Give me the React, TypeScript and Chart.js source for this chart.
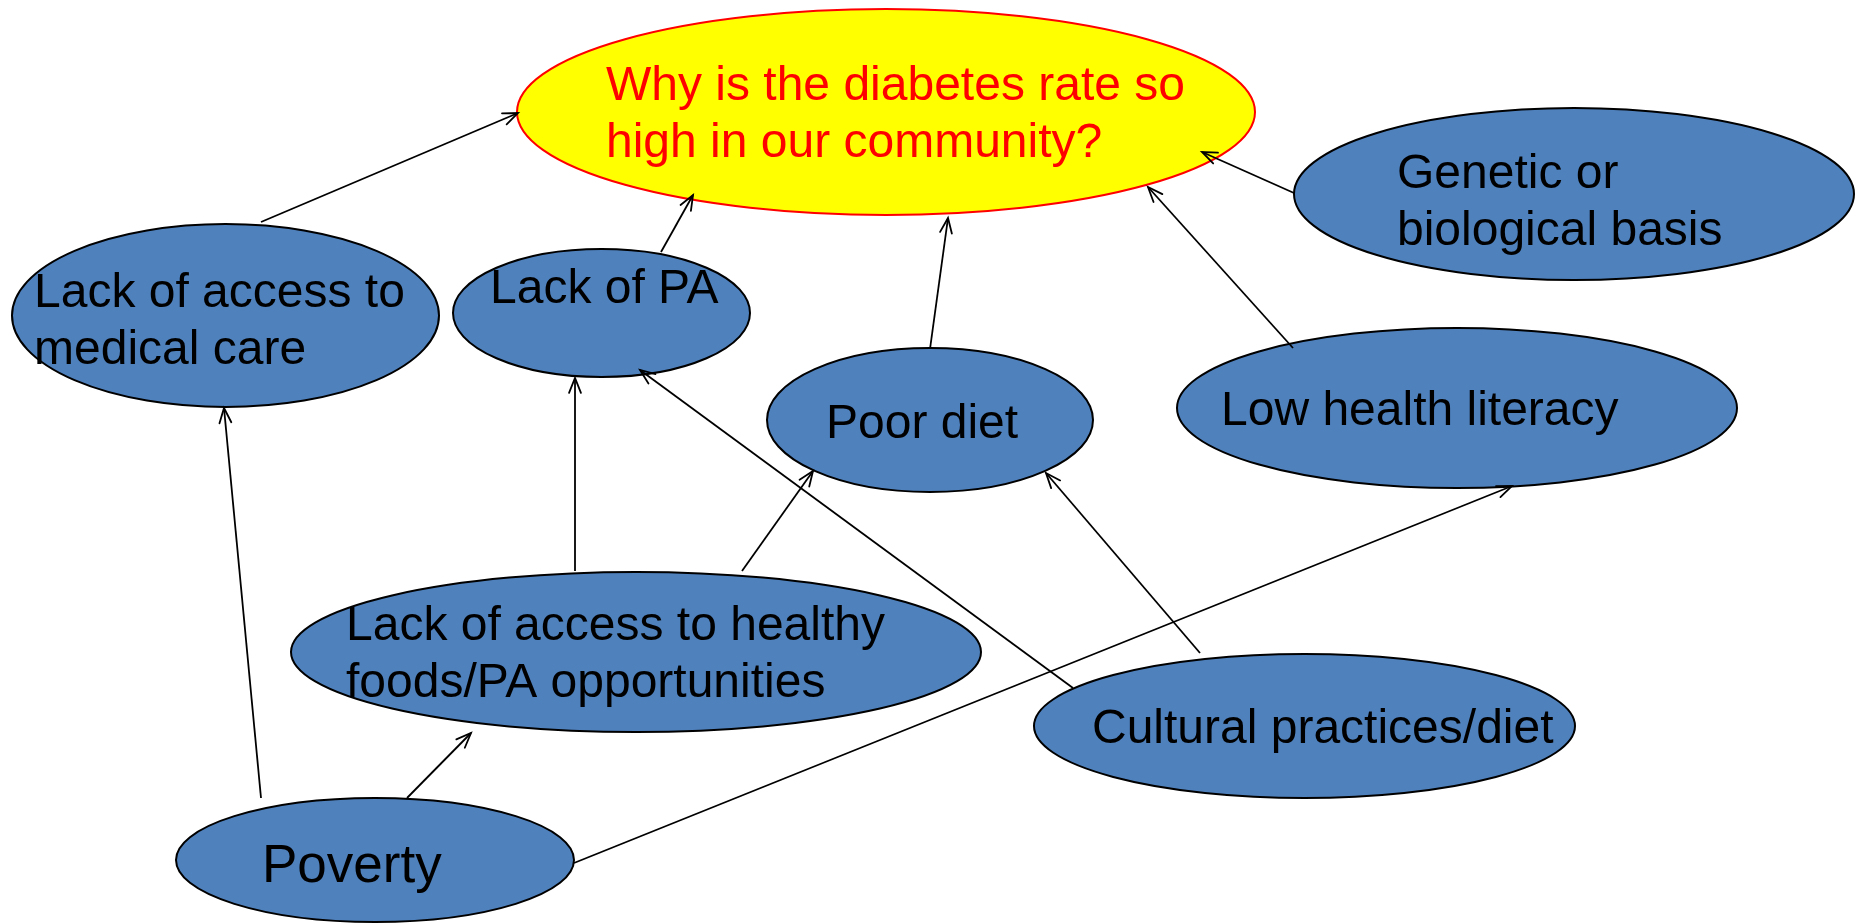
import { useEffect, useRef } from "react";
import { Chart, registerables } from "chart.js";

Chart.register(...registerables);

const W = 1862;
const H = 924;

// Nodes (ellipses): centre, radii, label lines, label anchor (first baseline)
const nodeLabels: string[][] = [
  ["Why is the diabetes rate so", "high in our community?"],
  ["Lack of access to", "medical care"],
  ["Lack of PA"],
  ["Poor diet"],
  ["Genetic or", "biological basis"],
  ["Low health literacy"],
  ["Lack of access to healthy", "foods/PA opportunities"],
  ["Cultural practices/diet"],
  ["Poverty"],
];
const nodeX = [886, 225.5, 601.5, 930, 1574, 1457, 636, 1304.5, 375];
const nodeY = [112, 315.5, 313, 420, 194, 408, 652, 726, 860];
const nodeRx = [369, 213.5, 148.5, 163, 280, 280, 345, 270.5, 199];
const nodeRy = [103, 91.5, 64, 72, 86, 80, 80, 72, 62];
const labelX = [606, 34, 490, 826, 1397, 1221, 346, 1092, 262];
const labelY = [100, 307, 303, 438, 188, 425, 640, 743, 882];
const labelSize = [48, 48, 48, 48, 48, 48, 48, 48, 53];

// Arrows: start -> end (arrowhead at end)
const edgeX1 = [261, 661, 930, 1293, 1294, 575, 742, 1073, 1200, 261, 407, 574];
const edgeY1 = [222, 252, 349, 348, 193, 571, 571, 688, 653, 798, 798, 863];
const edgeX2 = [518, 693, 948, 1148, 1202, 575, 813, 640, 1046, 224, 471, 1512];
const edgeY2 = [113, 195, 218, 187, 152, 378, 471, 370, 473, 408, 733, 486];

export default function App() {
  const ref = useRef<HTMLCanvasElement>(null);

  useEffect(() => {
    document.body.style.margin = "0";
    const canvas = ref.current;
    if (!canvas) return;

    const diagramPlugin = {
      id: "diagram",
      beforeDatasetsDraw(chart: any) {
        const { ctx, scales } = chart;
        const sx = scales.x;
        const sy = scales.y;
        ctx.save();
        for (let i = 0; i < nodeX.length; i++) {
          const cx = sx.getPixelForValue(nodeX[i]);
          const cy = sy.getPixelForValue(nodeY[i]);
          const rx = Math.abs(sx.getPixelForValue(nodeX[i] + nodeRx[i]) - cx);
          const ry = Math.abs(sy.getPixelForValue(nodeY[i] + nodeRy[i]) - cy);
          ctx.beginPath();
          ctx.ellipse(cx, cy, rx, ry, 0, 0, Math.PI * 2);
          ctx.fillStyle = i === 0 ? "#FFFF00" : "#4F81BD";
          ctx.fill();
          ctx.lineWidth = 2;
          ctx.strokeStyle = i === 0 ? "#FF0000" : "#000000";
          ctx.stroke();
        }
        ctx.restore();
      },
      afterDatasetsDraw(chart: any) {
        const { ctx, scales } = chart;
        const sx = scales.x;
        const sy = scales.y;
        ctx.save();
        // arrowheads
        ctx.strokeStyle = "#000";
        ctx.lineWidth = 1.8;
        ctx.lineCap = "round";
        for (let i = 0; i < edgeX1.length; i++) {
          const meta = chart.getDatasetMeta(i);
          const p0 = meta.data[0];
          const p1 = meta.data[1];
          const ang = Math.atan2(p1.y - p0.y, p1.x - p0.x);
          const len = 16;
          const spread = 0.38;
          ctx.beginPath();
          ctx.moveTo(p1.x - len * Math.cos(ang - spread), p1.y - len * Math.sin(ang - spread));
          ctx.lineTo(p1.x, p1.y);
          ctx.lineTo(p1.x - len * Math.cos(ang + spread), p1.y - len * Math.sin(ang + spread));
          ctx.stroke();
        }
        // labels
        ctx.textBaseline = "alphabetic";
        ctx.textAlign = "left";
        for (let i = 0; i < nodeLabels.length; i++) {
          ctx.font = `${labelSize[i]}px "Liberation Sans", Arial, sans-serif`;
          ctx.fillStyle = i === 0 ? "#FF0000" : "#000000";
          const lx = sx.getPixelForValue(labelX[i]);
          nodeLabels[i].forEach((line, j) => {
            const ly = sy.getPixelForValue(labelY[i] + j * 57);
            ctx.fillText(line, lx, ly);
          });
        }
        ctx.restore();
      },
    };

    const datasets = edgeX1.map((_, i) => ({
      type: "line" as const,
      data: [
        { x: edgeX1[i], y: edgeY1[i] },
        { x: edgeX2[i], y: edgeY2[i] },
      ],
      borderColor: "#000000",
      borderWidth: 1.8,
      pointRadius: 0,
      showLine: true,
      fill: false,
      tension: 0,
    }));

    const chart = new Chart(canvas, {
      type: "scatter",
      data: { datasets },
      options: {
        responsive: false,
        animation: false,
        devicePixelRatio: 1,
        events: [],
        layout: { padding: 0 },
        plugins: { legend: { display: false }, tooltip: { enabled: false } },
        scales: {
          x: { type: "linear", min: 0, max: W, display: false },
          y: { type: "linear", min: 0, max: H, reverse: true, display: false },
        },
      },
      plugins: [diagramPlugin],
    });

    return () => chart.destroy();
  }, []);

  return (
    <div style={{ position: "fixed", left: 0, top: 0, width: W, height: H, background: "#fff" }}>
      <canvas ref={ref} width={W} height={H} style={{ display: "block", width: W, height: H }} />
    </div>
  );
}
